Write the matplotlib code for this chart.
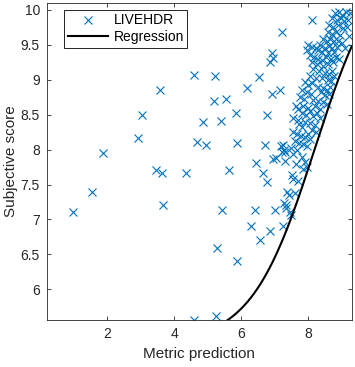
import matplotlib
matplotlib.use("Agg")
import matplotlib.pyplot as plt
import numpy as np

plt.rcParams['font.family'] = ['Liberation Sans', 'DejaVu Sans']

# Scattered (sparse) points: metric prediction / subjective score
x_sparse = [0.99, 1.55, 1.88, 2.93, 3.05, 3.59, 3.45, 3.64, 3.67, 4.34, 4.59, 4.69, 4.85, 4.94,
            4.59, 5.22, 5.18, 5.55, 5.41, 5.64, 5.43, 5.28, 5.26, 5.85, 5.86, 5.88, 6.18, 6.54,
            6.45, 6.41, 6.28, 6.56, 6.66, 6.70, 6.78, 6.76, 6.93, 6.86, 7.00, 6.93, 6.94, 6.86,
            6.96, 7.05, 7.15, 7.22, 7.25, 7.30, 7.28, 7.26, 7.33, 7.37, 7.50, 7.52]
y_sparse = [7.10, 7.39, 7.95, 8.17, 8.49, 8.85, 7.71, 7.67, 7.21, 7.67, 9.07, 8.11, 8.40, 8.06,
            5.56, 9.05, 8.70, 8.72, 8.41, 7.71, 7.13, 6.59, 5.62, 8.52, 8.09, 6.40, 8.88, 9.04,
            7.81, 7.14, 6.90, 6.71, 7.67, 8.06, 7.53, 8.50, 8.79, 6.83, 7.13, 9.38, 9.31, 9.26,
            7.86, 7.88, 8.85, 9.68, 8.07, 7.83, 7.23, 6.91, 7.17, 7.39, 7.07, 7.63]

# Dense cluster points
x_dense = [8.12,
           8.80, 8.92, 9.02, 9.12, 9.24, 8.70, 8.85, 8.98, 9.08, 9.18,
           8.62, 8.75, 8.90, 9.03, 9.15, 8.58, 8.70, 8.82, 8.95, 9.22,
           8.45, 8.55, 8.65, 8.78, 8.88, 9.00, 8.35, 8.50, 8.62, 8.72, 8.85, 9.10,
           8.00, 8.10, 8.22, 8.30, 8.42, 8.58, 8.78,
           7.95, 8.05, 8.18, 8.28, 8.40, 8.52, 8.68, 8.82, 8.92,
           8.10, 8.25, 8.45, 8.60, 8.75,
           8.15, 8.32, 8.50, 8.62, 8.72, 8.78, 8.05, 8.22, 8.40, 8.58, 8.68,
           7.90, 8.00, 8.12, 8.30, 8.45, 8.55, 8.65, 7.82, 7.95, 8.08, 8.38, 8.50, 8.62,
           7.75, 7.88, 8.15, 8.30, 8.45, 8.55, 7.62, 7.70, 7.85, 8.00, 8.20, 8.35,
           7.80, 7.92, 8.05, 8.15, 8.25, 8.35, 7.55, 7.68, 7.90, 8.05, 8.20,
           7.72, 7.82, 8.10, 8.22, 7.55, 7.65, 7.78, 7.90, 8.00,
           7.60, 7.72, 7.85, 7.95, 8.05, 7.20, 7.28, 7.50, 7.65,
           7.22, 7.30, 7.55, 7.80, 7.90, 7.95, 7.85, 7.62,
           7.55, 7.68, 7.42, 7.60, 7.35, 7.45]
y_dense = [9.85,
           9.95, 9.97, 9.93, 9.97, 9.96, 9.88, 9.86, 9.88, 9.84, 9.86,
           9.78, 9.76, 9.78, 9.74, 9.75, 9.68, 9.66, 9.68, 9.64, 9.62,
           9.58, 9.55, 9.58, 9.56, 9.55, 9.52, 9.50, 9.46, 9.48, 9.45, 9.47, 9.45,
           9.50, 9.47, 9.45, 9.42, 9.40, 9.38, 9.40,
           9.42, 9.36, 9.33, 9.30, 9.28, 9.32, 9.30, 9.33, 9.30,
           9.25, 9.22, 9.20, 9.22, 9.25,
           9.15, 9.12, 9.10, 9.08, 9.12, 9.05, 9.05, 9.02, 9.02, 9.00, 8.98,
           8.97, 8.92, 8.95, 8.90, 8.88, 8.85, 8.90, 8.85, 8.82, 8.80, 8.82, 8.78, 8.80,
           8.75, 8.72, 8.71, 8.70, 8.68, 8.65, 8.62, 8.58, 8.62, 8.60, 8.62, 8.58,
           8.52, 8.50, 8.55, 8.48, 8.52, 8.45, 8.45, 8.42, 8.40, 8.38, 8.35,
           8.36, 8.33, 8.28, 8.25, 8.25, 8.22, 8.20, 8.18, 8.22,
           8.12, 8.10, 8.08, 8.05, 8.15, 8.05, 8.00, 8.02, 8.00,
           7.97, 7.97, 7.94, 7.90, 7.82, 7.75, 7.72, 7.80,
           7.58, 7.55, 7.35, 7.38, 7.20, 7.10]

# Logistic regression parameters
reg_mid, reg_half, reg_center, reg_width = 8.02, 2.8, 8.2, 1.9

x_lim = (0.2, 9.3)
y_lim = (5.56, 10.1)
x_ticks = [2, 4, 6, 8]
y_ticks = [6, 6.5, 7, 7.5, 8, 8.5, 9, 9.5, 10]
y_ticklabels = ['6', '6.5', '7', '7.5', '8', '8.5', '9', '9.5', '10']

blue = '#0072BD'
dark = '#262626'

fig = plt.figure(figsize=(3.55, 3.67), dpi=100)
ax = fig.add_axes([0.132, 0.128, 0.859, 0.864])

xs = np.concatenate([x_sparse, x_dense])
ys = np.concatenate([y_sparse, y_dense])
ax.plot(xs, ys, linestyle='none', marker='x', color=blue, markersize=6,
        markeredgewidth=0.8, label='LIVEHDR')

xc = np.linspace(x_lim[0], x_lim[1], 400)
yc = reg_mid + reg_half * np.tanh((xc - reg_center) / reg_width)
ax.plot(xc, yc, color='black', linewidth=1.5, label='Regression')

ax.set_xlim(*x_lim)
ax.set_ylim(*y_lim)
ax.set_xticks(x_ticks)
ax.set_yticks(y_ticks)
ax.set_yticklabels(y_ticklabels)
ax.tick_params(direction='in', length=3, width=0.6, colors=dark, labelsize=10,
               top=True, right=True, labeltop=False, labelright=False, pad=5)
for s in ax.spines.values():
    s.set_linewidth(0.6)
    s.set_color(dark)

ax.set_xlabel('Metric prediction', fontsize=11, color=dark)
ax.set_ylabel('Subjective score', fontsize=11, color=dark)
ax.xaxis.set_label_coords(0.5, -0.085)
ax.yaxis.set_label_coords(-0.095, 0.5)

leg = ax.legend(loc='upper left', bbox_to_anchor=(0.057, 0.978), fontsize=10,
                frameon=True, fancybox=False, framealpha=1, edgecolor='black',
                handlelength=2.9, handletextpad=0.4, borderpad=0.25, labelspacing=0.2,
                borderaxespad=0)
leg.get_frame().set_linewidth(0.6)

fig.savefig('out.png', dpi=100)
